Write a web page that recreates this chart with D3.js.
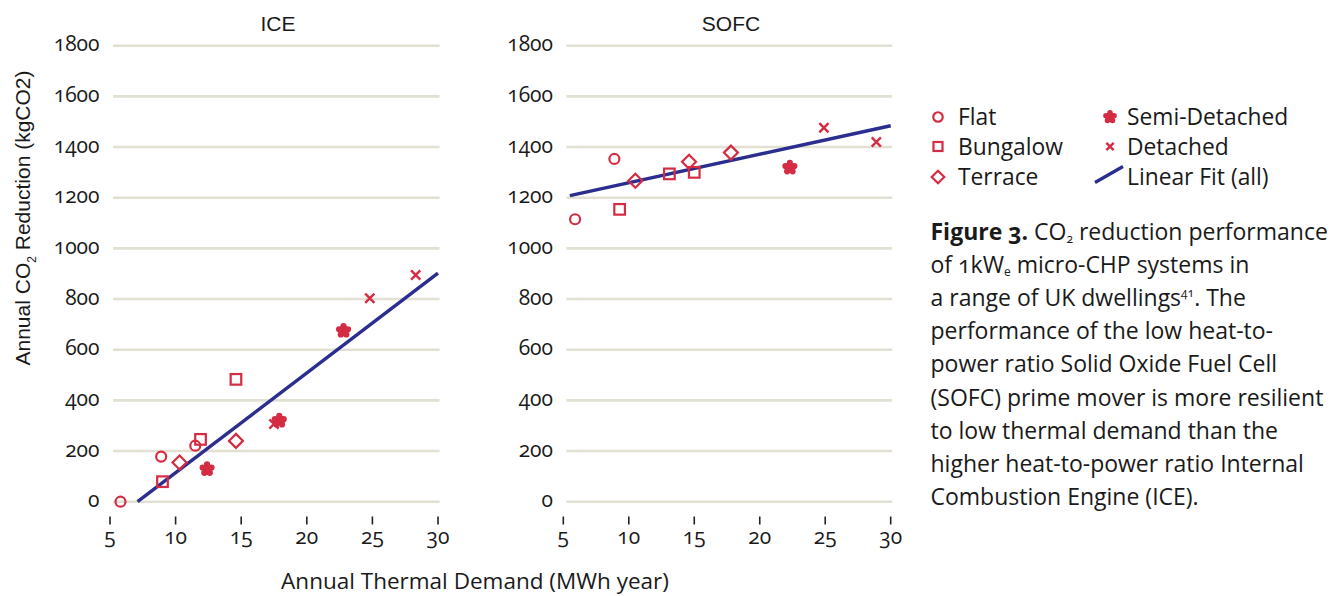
<!DOCTYPE html>
<html>
<head>
<meta charset="utf-8">
<script src="https://cdn.jsdelivr.net/npm/d3@7"></script>
<style>
  body { margin: 0; background: #fff; }
  text { fill: #1a1a1a; }
  .num { font-family: 'Open Sans', sans-serif; font-variant-numeric: oldstyle-nums; font-feature-settings: 'onum' 1; }
  .body { font-family: 'Open Sans', sans-serif; font-variant-numeric: oldstyle-nums; font-feature-settings: 'onum' 1; }
  .arial { font-family: 'Liberation Sans', Arial, sans-serif; }
</style>
</head>
<body>
<svg id="chart"></svg>
<script>
// jshint esversion : 6
const categories = ['Flat', 'Bungalow', 'Terrace', 'Semi-Detached', 'Detached'];
const xTicks = [5, 10, 15, 20, 25, 30];
const yTicks = [0, 200, 400, 600, 800, 1000, 1200, 1400, 1600, 1800];

const iceType = ['Flat', 'Flat', 'Flat', 'Bungalow', 'Bungalow', 'Bungalow', 'Terrace', 'Terrace',
  'Semi-Detached', 'Semi-Detached', 'Semi-Detached', 'Detached', 'Detached', 'Detached'];
const iceDemand = [5.8, 8.9, 11.5, 9.0, 11.9, 14.6, 10.3, 14.6, 12.4, 17.9, 22.8, 17.5, 24.8, 28.3];
const iceReduction = [0, 178, 221, 79, 246, 483, 155, 240, 129, 320, 675, 307, 803, 895];
const iceFitDemand = [7.1, 30];
const iceFitReduction = [0, 902];

const sofcType = ['Flat', 'Flat', 'Bungalow', 'Bungalow', 'Bungalow', 'Terrace', 'Terrace', 'Terrace',
  'Semi-Detached', 'Detached', 'Detached'];
const sofcDemand = [5.9, 8.9, 9.3, 13.1, 15.0, 10.5, 14.6, 17.8, 22.3, 24.9, 28.9];
const sofcReduction = [1115, 1353, 1154, 1294, 1300, 1267, 1342, 1378, 1319, 1476, 1420];
const sofcFitDemand = [5.5, 30];
const sofcFitReduction = [1208, 1484];

const red = '#d42c43', navy = '#2b2e8e', grid = '#e2e0d3';

let svg = d3.select('#chart').attr('width', 1336).attr('height', 596);

function flowerPath(d, pr, c) {
  let pth = d3.path();
  pth.moveTo(c, 0);
  pth.arc(0, 0, c, 0, 2 * Math.PI);
  for (let i = 0; i < 5; i++) {
    let a = -Math.PI / 2 + i * 2 * Math.PI / 5,
      cx = Math.cos(a) * d, cy = Math.sin(a) * d;
    pth.moveTo(cx + pr, cy);
    pth.arc(cx, cy, pr, 0, 2 * Math.PI);
  }
  return pth.toString();
}

function drawMarker(g, type, s) {
  s = s || 1;
  if (type === 'Flat') {
    g.append('circle').attr('r', 5 * s).attr('fill', 'none').attr('stroke', red).attr('stroke-width', 2.2);
  } else if (type === 'Bungalow') {
    g.append('rect').attr('x', -5.3 * s).attr('y', -5.3 * s).attr('width', 10.6 * s).attr('height', 10.6 * s)
      .attr('fill', 'none').attr('stroke', red).attr('stroke-width', 2.2);
  } else if (type === 'Terrace') {
    let r = 7 * s;
    g.append('path').attr('d', `M0,${-r}L${r},0L0,${r}L${-r},0Z`)
      .attr('fill', 'none').attr('stroke', red).attr('stroke-width', 2.2);
  } else if (type === 'Semi-Detached') {
    g.append('path').attr('d', flowerPath(4.7 * s, 3.1 * s, 3.0 * s)).attr('fill', red);
  } else {
    let r = 4.6 * s;
    g.append('path').attr('d', `M${-r},${-r}L${r},${r}M${-r},${r}L${r},${-r}`)
      .attr('stroke', red).attr('stroke-width', 2.4);
  }
}

function drawPanel(opts) {
  let x = d3.scaleLinear().domain([5, 30]).range(opts.xRange),
    y = d3.scaleLinear().domain([0, 1800]).range([501.7, 45.7]);
  let g = svg.append('g');

  g.selectAll('.grid')
    .data(yTicks)
    .enter()
    .append('line')
    .attr('x1', x(5) + 3)
    .attr('x2', x(30) + 1.5)
    .attr('y1', d => y(d))
    .attr('y2', d => y(d))
    .attr('stroke', grid)
    .attr('stroke-width', 2.6);

  g.selectAll('.ylab')
    .data(yTicks)
    .enter()
    .append('text')
    .attr('class', 'num')
    .attr('x', opts.labelX)
    .attr('y', d => y(d) + 5.5)
    .attr('text-anchor', 'end')
    .attr('font-size', 21)
    .text(d => d);

  g.selectAll('.xtick')
    .data(xTicks)
    .enter()
    .append('line')
    .attr('x1', d => x(d))
    .attr('x2', d => x(d))
    .attr('y1', 516.5)
    .attr('y2', 524.5)
    .attr('stroke', '#222')
    .attr('stroke-width', 1.6);

  g.selectAll('.xlab')
    .data(xTicks)
    .enter()
    .append('text')
    .attr('class', 'num')
    .attr('x', d => x(d))
    .attr('y', 544)
    .attr('text-anchor', 'middle')
    .attr('font-size', 21)
    .text(d => d);

  g.append('text')
    .attr('class', 'arial')
    .attr('x', (x(5) + x(30)) / 2 + 4)
    .attr('y', 31)
    .attr('text-anchor', 'middle')
    .attr('font-size', 21)
    .text(opts.title);

  let fit = opts.fitDemand.map((d, i) => [d, opts.fitReduction[i]]);
  g.append('path')
    .attr('d', d3.line().x(d => x(d[0])).y(d => y(d[1]))(fit))
    .attr('fill', 'none')
    .attr('stroke', navy)
    .attr('stroke-width', 3.4);

  opts.type.forEach((t, i) => {
    let m = g.append('g').attr('transform', `translate(${x(opts.demand[i])},${y(opts.reduction[i])})`);
    drawMarker(m, t);
  });
}

drawPanel({
  title: 'ICE', xRange: [110, 438], labelX: 99.5,
  type: iceType, demand: iceDemand, reduction: iceReduction,
  fitDemand: iceFitDemand, fitReduction: iceFitReduction
});
drawPanel({
  title: 'SOFC', xRange: [563.3, 890.7], labelX: 553,
  type: sofcType, demand: sofcDemand, reduction: sofcReduction,
  fitDemand: sofcFitDemand, fitReduction: sofcFitReduction
});

// axis titles
let yt = svg.append('text')
  .attr('class', 'arial')
  .attr('transform', 'translate(30,218) rotate(-90)')
  .attr('text-anchor', 'middle')
  .attr('font-size', 21);
yt.append('tspan').text('Annual CO');
yt.append('tspan').attr('dy', 6).attr('font-size', 12).text('2');
yt.append('tspan').attr('dy', -6).text(' Reduction (kgCO2)');

svg.append('text')
  .attr('class', 'body')
  .attr('x', 475)
  .attr('y', 589)
  .attr('text-anchor', 'middle')
  .attr('font-size', 22.5)
  .text('Annual Thermal Demand (MWh year)');

// legend
let legendPos = [[938, 117], [938, 146.5], [938, 177], [1110, 117], [1110, 146.5]];
let legendSize = [0.95, 0.85, 0.9, 0.9, 0.8];
categories.forEach((c, i) => {
  let m = svg.append('g').attr('transform', `translate(${legendPos[i][0]},${legendPos[i][1]})`);
  drawMarker(m, c, legendSize[i]);
  svg.append('text')
    .attr('class', 'body')
    .attr('x', legendPos[i][0] + (i < 3 ? 20 : 17))
    .attr('y', legendPos[i][1] + 8)
    .attr('font-size', 22.8)
    .text(c);
});
svg.append('line')
  .attr('x1', 1095).attr('y1', 182.5).attr('x2', 1123).attr('y2', 166.5)
  .attr('stroke', navy).attr('stroke-width', 3.2);
svg.append('text')
  .attr('class', 'body')
  .attr('x', 1127)
  .attr('y', 185)
  .attr('font-size', 22.8)
  .text('Linear Fit (all)');

// caption
let captionLines = [
  [['b', 'Figure 3.'], ['', ' CO'], ['sub', '2'], ['', ' reduction performance']],
  [['', 'of 1kW'], ['sub', 'e'], ['', ' micro-CHP systems in']],
  [['', 'a range of UK dwellings'], ['sup', '41'], ['', '. The']],
  [['', 'performance of the low heat-to-']],
  [['', 'power ratio Solid Oxide Fuel Cell']],
  [['', '(SOFC) prime mover is more resilient']],
  [['', 'to low thermal demand than the']],
  [['', 'higher heat-to-power ratio Internal']],
  [['', 'Combustion Engine (ICE).']]
];
captionLines.forEach((line, i) => {
  let t = svg.append('text')
    .attr('class', 'body')
    .attr('x', 930.5)
    .attr('y', 240 + i * 33.1)
    .attr('font-size', 23);
  line.forEach((seg, j) => {
    let ts = t.append('tspan').text(seg[1]);
    let prev = j > 0 ? line[j - 1][0] : '';
    if (seg[0] === 'b') ts.attr('font-weight', 'bold');
    if (seg[0] === 'sub') ts.attr('font-size', 12).attr('dy', 3);
    if (seg[0] === 'sup') ts.attr('font-size', 12).attr('dy', -9);
    if (seg[0] === '' && prev === 'sub') ts.attr('dy', -3);
    if (seg[0] === '' && prev === 'sup') ts.attr('dy', 9);
  });
});
</script>
</body>
</html>
